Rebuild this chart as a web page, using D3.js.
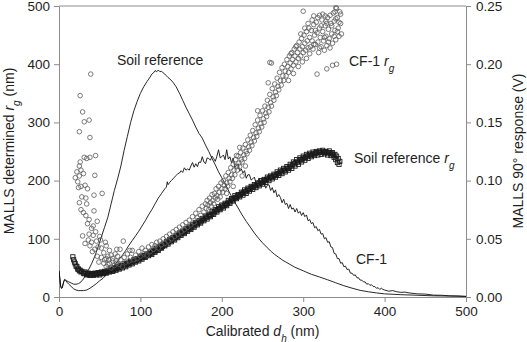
<!DOCTYPE html>
<html>
<head>
<meta charset="utf-8">
<script src="https://cdn.jsdelivr.net/npm/d3@7"></script>
<style>
  body { margin: 0; background: #fff; }
  svg { display: block; font-family: "Liberation Sans", Arial, sans-serif; }
</style>
</head>
<body>
<div id="chart"></div>
<script>
// ---- data ----
// x: calibrated d_h (nm); left axis r_g (nm); right axis MALLS 90 deg response (V)
const xTicks = [0, 100, 200, 300, 400, 500];
const rgTicks = [0, 100, 200, 300, 400, 500];
const voltTicks = [0, 0.05, 0.10, 0.15, 0.20, 0.25];

// Soil reference 90 deg signal [dh, V]
const soilSignal = [[0,0.0225],[1,0.016],[2,0.0095],[3,0.0075],[4,0.008],[5,0.011],[6,0.0135],[7,0.015],[8,0.0145],[9,0.014],[12,0.013],[15,0.012],[18,0.011],[21,0.011],[24,0.0115],[27,0.013],[30,0.0155],[33,0.019],[36,0.023],[40,0.0285],[44,0.035],[48,0.043],[52,0.0515],[56,0.06],[60,0.0685],[64,0.08],[68,0.0915],[72,0.1015],[76,0.1125],[80,0.126],[84,0.138],[88,0.15],[92,0.16],[96,0.168],[100,0.175],[104,0.1805],[108,0.185],[112,0.189],[114,0.1915],[116,0.1925],[118,0.1945],[120,0.1935],[122,0.195],[124,0.1935],[126,0.194],[128,0.1925],[130,0.1915],[132,0.19],[134,0.1885],[136,0.1875],[140,0.1845],[144,0.1805],[148,0.175],[152,0.169],[156,0.163],[160,0.1575],[164,0.152],[168,0.146],[172,0.1405],[176,0.1365],[180,0.1305],[184,0.125],[188,0.119],[192,0.1135],[196,0.1075],[200,0.1025],[205,0.096],[210,0.089],[215,0.0825],[220,0.0765],[225,0.0705],[230,0.065],[235,0.06],[240,0.055],[245,0.0505],[250,0.0465],[255,0.043],[260,0.0395],[265,0.0365],[270,0.034],[275,0.0315],[280,0.0295],[285,0.0275],[290,0.0255],[295,0.024],[300,0.0225],[310,0.0195],[320,0.0172],[330,0.0148],[340,0.0122],[350,0.0097],[360,0.0076],[370,0.0057],[380,0.0045],[390,0.0035],[400,0.0027],[420,0.002],[440,0.0015],[460,0.001],[480,0.0008],[500,0.0005]];

// CF-1 90 deg signal [dh, V]
const cf1Signal = [[0,0.0225],[1,0.016],[2,0.0095],[3,0.0075],[4,0.008],[5,0.011],[6,0.0135],[7,0.015],[8,0.0145],[10,0.0125],[12,0.011],[15,0.009],[18,0.007],[21,0.006],[24,0.0055],[27,0.0055],[30,0.0055],[34,0.006],[38,0.0075],[42,0.0095],[46,0.0115],[50,0.014],[54,0.016],[58,0.019],[62,0.0225],[66,0.0255],[70,0.029],[74,0.0325],[78,0.036],[82,0.04],[86,0.0445],[90,0.0485],[94,0.0525],[98,0.0565],[102,0.061],[106,0.0655],[110,0.0705],[114,0.075],[118,0.08],[122,0.085],[126,0.089],[130,0.093],[132,0.0945],[133,0.099],[134,0.0965],[136,0.0985],[138,0.1],[140,0.1015],[142,0.103],[144,0.1045],[146,0.106],[148,0.1065],
  [150,0.1085],[152,0.107],[154,0.111],[156,0.109],[158,0.11],[160,0.109],[162,0.1125],[164,0.1155],[166,0.1115],[168,0.1145],[170,0.112],[172,0.116],[174,0.1155],[176,0.1205],[178,0.116],[180,0.1145],[182,0.1195],[184,0.119],[186,0.1175],[188,0.121],[190,0.119],[192,0.1165],[194,0.121],[196,0.1265],[198,0.1195],[200,0.1205],[202,0.122],[204,0.118],[206,0.1265],[208,0.1185],[210,0.1205],[212,0.115],[214,0.1195],[216,0.111],[218,0.113],[220,0.1145],[222,0.108],[224,0.11],[226,0.1065],[228,0.1085],[230,0.102],[232,0.105],[234,0.105],[236,0.1005],[238,0.1015],[240,0.103],[242,0.098],[244,0.1],[246,0.1015],[248,0.0965],[250,0.098],[252,0.0985],[254,0.0935],[256,0.096],[258,0.0965],[260,0.0915],[262,0.094],[264,0.0895],[266,0.092],[268,0.086],[270,0.088],[272,0.0855],[274,0.081],[276,0.084],[278,0.0795],[280,0.0805],[282,0.076],[284,0.0795],[286,0.0755],[288,0.0765],[290,0.073],[292,0.076],[294,0.072],[296,0.0735],[298,0.07],[300,0.0725],[302,0.069],[304,0.0705],[306,0.0655],[308,0.0665],[310,0.063],[312,0.064],[314,0.0595],[316,0.0605],[318,0.057],[320,0.058],[322,0.054],[324,0.0545],[326,0.05],[328,0.051],[330,0.047],[332,0.0475],[334,0.043],[336,0.0425],[338,0.0375],[340,0.037],[342,0.033],[344,0.033],[346,0.029],[348,0.0295],[350,0.026],[352,0.0265],[354,0.0235],[356,0.024],[358,0.0205],[360,0.0205],[362,0.0185],[364,0.019],[366,0.0165],[368,0.0165],[370,0.0145],[372,0.0145],[374,0.013],[376,0.013],[378,0.011],[380,0.0115],[382,0.01],[384,0.0105],[386,0.009],[388,0.009],[390,0.0075],[392,0.008],[394,0.0065],[396,0.0075],[398,0.0065],[400,0.006],
  [405,0.005],[410,0.0055],[415,0.0045],[420,0.004],[425,0.0042],[430,0.0035],[440,0.0027],[450,0.0025],[460,0.0016],[470,0.0015],[480,0.001],[490,0.0009],[500,0.0005]];

// Soil reference r_g (squares) [dh, nm]
const soilRg = [[17,69],[18,64],[19,60],[20,57],[21,53],[22,52],[23,48],[24,48],[25,45],[26,46],[27,43],[28,44],[30,41],[32,43],[34,38],[36,41],[38,37],[40,40],[42,37],[44,41],[46,38],[48,42],[50,38],[52,43],[54,40],[56,44],[58,41],[60,46],[62,43],[64,48],[66,44],[68,50],[70,46],[72,52],[74,48],[76,54],[78,50],[80,57],[82,52],[84,58],[86,55],[88,61],[90,57],[92,64],[94,60],[96,66],[98,62],[100,69],[102,65],[104,71],[106,68],[108,74],[110,71],[112,77],[114,73],[116,80],[118,77],[120,84],[122,80],[124,87],[126,84],[128,91],[130,88],[132,95],[134,91],[136,99],[138,95],[140,102],[142,98],[144,106],[146,102],[148,110],[150,106],[152,113],[154,109],[156,117],[158,113],[160,120],[162,116],[164,124],[166,120],[168,128],[170,124],[172,131],[174,127],[176,135],[178,131],[180,139],[182,134],[184,142],[186,138],[188,147],[190,142],[192,150],[194,146],[196,155],[198,150],[200,158],[202,153],[204,161],[206,157],[208,166],[210,161],[212,169],[214,165],[216,174],[218,169],[220,176],[222,172],[224,180],[226,175],[228,184],[230,178],[232,187],[234,182],[236,190],[238,185],[240,193],[242,188],[244,196],[246,191],[248,200],[250,194],[252,202],[254,197],[256,206],[258,200],[260,208],[262,203],[264,211],[266,206],[268,215],[270,209],[272,218],[274,212],[276,221],[278,215],[280,224],[282,218],[284,228],[286,221],[288,232],[290,225],[292,236],[294,228],[296,239],[298,232],[300,242],[302,235],[304,245],[306,238],[308,247],[310,241],[312,249],[314,243],[316,250],[318,244],[320,251],[322,245],[324,252],[326,246],[328,250],[330,244],[332,251],[334,243],[336,248],[338,240],[339,245],[340,236],[341,242],[342,231],[343,238],[344,228],[345,233],
  [31,40],[33,41],[35,39],[37,40],[39,38],[41,40],[43,39],[45,40],[47,40],[49,40],[51,41],[53,41],[55,42],[57,43],[59,43],[61,45],[63,45],[65,46],[67,47],[69,48],[71,49],[73,50],[75,51],[77,52],[79,53],[81,54],[83,56],[85,57],[87,58],[89,59],[91,61],[93,62],[95,63],[97,64],[99,66],[101,67],[103,68],[105,70],[107,71],[109,73],[111,74],[113,75],[115,77],[117,78],[119,80],[121,82],[123,84],[125,85],[127,87],[129,89],[131,91],[133,93],[135,95],[137,97],[139,99],[141,100],[143,102],[145,104],[147,106],[149,108],[151,110],[153,111],[155,113],[157,115],[159,117],[161,118],[163,120],[165,122],[167,124],[169,126],[171,128],[173,129],[175,131],[177,133],[179,135],[181,137],[183,138],[185,140],[187,142],[189,144],[191,146],[193,148],[195,150],[197,152],[199,154],[201,156],[203,157],[205,159],[207,161],[209,163],[211,165],[213,167],[215,169],[217,171],[219,173],[221,174],[223,176],[225,178],[227,180],[229,181],[231,183],[233,185],[235,186],[237,188],[239,189],[241,191],[243,192],[245,194],[247,195],[249,197],[251,198],[253,200],[255,202],[257,203],[259,205],[261,206],[263,207],[265,209],[267,210],[269,212],[271,213],[273,215],[275,217],[277,218],[279,220],[281,221],[283,223],[285,225],[287,227],[289,229],[291,231],[293,232],[295,234],[297,236],[299,237],[301,239],[303,240],[305,242],[307,243],[309,244],[311,245],[313,246],[315,247],[317,248],[319,248],[321,249],[323,249],[325,249],[327,249],[329,248],[331,248],[333,247],[335,246],[337,244]];

// CF-1 r_g (circles) [dh, nm]
const cf1Rg = [[39,383],[26,346],[29,318],[31,301],[37,304],[25,284],[38,274],[31,240],[34,238],[38,240],[45,243],[25,225],[27,218],[30,212],[25,208],[44,209],[24,188],[27,190],[32,192],[35,186],[53,178],[43,175],[33,170],[25,162],[27,150],[30,145],[33,140],[43,148],[37,133],[35,126],[47,130],[42,122],[29,105],[37,108],[42,106],[36,98],[40,94],[46,96],[51,98],[48,86],[52,84],[58,88],[44,82],[41,78],[55,76],[62,80],[47,70],[52,68],[58,66],[64,72],[69,74],[75,82],[49,60],[55,58],[60,56],[66,62],[71,58],[26,232],[22,215],[20,205],[23,198],[34,160],[28,172],[40,118],[45,112],[50,104],[32,92],[38,88],[57,94],[61,64],[71,82],[87,80],[79,96],
  [56,64],[58,52],[60,70],[62,58],[64,50],[66,66],[68,54],[70,62],[72,70],[74,56],[76,64],[78,52],[80,68],[82,60],[84,74],[86,62],[88,68],[90,80],[92,64],[94,72],[96,66],[98,78],[100,70],[102,84],[104,74],[106,80],[108,72],[110,86],[112,78],[114,90],[116,82],[118,88],[120,94],[122,84],[124,96],[126,90],[128,100],[130,92],[132,104],[134,96],[136,108],[138,100],[140,112],[142,104],[144,116],[146,108],[148,120],[150,112],[152,124],[154,116],[156,128],[158,120],[160,132],[162,124],[164,138],[166,128],[168,144],[170,136],[172,150],[174,140],[176,156],[178,146],[180,160],
  [181,152],[182,166],[183,158],[184,150],[185,170],[186,162],[187,156],[188,176],[189,166],[190,160],[191,178],[192,170],[193,186],[194,174],[195,168],[196,190],[197,180],[198,172],[199,196],[200,186],[201,180],[202,200],[203,192],[204,186],[205,208],[206,196],[207,190],[208,214],[209,204],[210,198],[211,222],[212,210],[213,204],[214,228],[215,218],[216,210],[217,236],[218,224],[219,218],[220,242],[221,230],[222,224],[223,248],[224,236],[225,232],[226,256],[227,244],[228,238],[229,262],[230,250],
  [231,246],[232,270],[233,258],[234,252],[235,278],[236,266],[237,260],[238,286],[239,274],[240,268],[241,296],[242,282],[243,276],[244,304],[245,290],[246,284],[247,312],[248,298],[249,292],[250,320],[251,306],[252,300],[253,328],[254,316],[255,310],[256,338],[257,326],[258,318],[259,348],[260,334],[261,328],[262,358],[263,344],[264,338],[265,366],[266,352],[267,346],[268,376],[269,362],[270,356],[271,386],[272,372],[273,364],[274,394],[275,380],[276,372],[277,400],[278,388],[279,380],[280,408],[281,396],[282,386],[283,414],[284,402],[285,392],[286,420],[287,408],[288,398],[289,426],[290,414],[291,404],[292,432],[293,420],[294,410],[295,438],[296,426],[297,414],[298,444],[299,430],[300,420],
  [301,450],[302,436],[303,424],[304,456],[305,440],[306,428],[307,462],[308,446],[309,430],[310,458],[311,440],[312,426],[313,468],[314,450],[315,434],[316,472],[317,454],[318,438],[319,420],[320,462],[321,446],[322,430],[323,476],[324,456],[325,440],[326,424],[327,466],[328,448],[329,432],[330,480],[331,460],[332,444],[333,428],[334,470],[335,452],[336,436],[337,488],[338,474],[339,458],[340,442],[341,496],[342,480],[343,462],[344,448],[345,490],[346,470],[347,452],
  [259,403],[257,368],[261,402],[317,383],[329,392],[336,398],[341,400],[300,491],[313,483],[320,484],[327,483],[340,497],[218,243],[222,257],[244,320],[229,225],[206,178],[214,190],[225,208],
  [282,372],[285,418],[288,384],[291,430],[294,396],[297,452],[299,404],[302,462],[304,410],[306,470],[308,418],[311,476],[313,434],[315,458],[318,480],[320,428],[322,466],[324,486],[326,446],[328,474],[331,438],[333,484],[335,466],[338,448],[340,478],[342,456],[344,472],[346,486],[339,490],[329,470]];

// ---- chart ----
const W = 527, H = 342;
const plot = { left: 59, right: 466, top: 6, bottom: 297 };
const axisColor = '#8c8c8c', textColor = '#1e1e1e';

const svg = d3.select('#chart').append('svg')
  .attr('width', W).attr('height', H);

const x = d3.scaleLinear().domain([0, 500]).range([plot.left, plot.right]);
const yRg = d3.scaleLinear().domain([0, 500]).range([plot.bottom, plot.top]);
const yV = d3.scaleLinear().domain([0, 0.25]).range([plot.bottom, plot.top]);

svg.append('clipPath').attr('id', 'clip')
  .append('rect')
  .attr('x', plot.left).attr('y', plot.top - 3)
  .attr('width', plot.right - plot.left).attr('height', plot.bottom - plot.top + 3);

// frame top line
svg.append('line')
  .attr('x1', plot.left).attr('x2', plot.right)
  .attr('y1', plot.top).attr('y2', plot.top)
  .attr('stroke', axisColor).attr('stroke-width', 1);

function styleAxis(g) {
  g.select('.domain').attr('stroke', axisColor).attr('stroke-width', 1);
  g.selectAll('.tick line').attr('stroke', axisColor);
  g.selectAll('.tick text').attr('fill', textColor).style('font-size', '13.5px');
  g.attr('font-family', null);
}

svg.append('g')
  .attr('transform', `translate(0,${plot.bottom})`)
  .call(d3.axisBottom(x).tickValues(xTicks).tickSize(5).tickSizeOuter(0).tickPadding(4))
  .call(styleAxis);

svg.append('g')
  .attr('transform', `translate(${plot.left},0)`)
  .call(d3.axisLeft(yRg).tickValues(rgTicks).tickSize(5).tickSizeOuter(0).tickPadding(4))
  .call(styleAxis);

svg.append('g')
  .attr('transform', `translate(${plot.right},0)`)
  .call(d3.axisRight(yV).tickValues(voltTicks).tickFormat(d3.format('.2f')).tickSize(5).tickSizeOuter(0).tickPadding(5))
  .call(styleAxis);

// marks
const marks = svg.append('g').attr('clip-path', 'url(#clip)');

const lineV = d3.line().x(d => x(d[0])).y(d => yV(d[1]));
marks.selectAll('path.signal')
  .data([soilSignal, cf1Signal])
  .join('path')
  .attr('class', 'signal')
  .attr('d', lineV)
  .attr('fill', 'none')
  .attr('stroke', '#111')
  .attr('stroke-width', 0.9);

const sq = 4.2;
marks.selectAll('rect.soilrg')
  .data(soilRg)
  .join('rect')
  .attr('class', 'soilrg')
  .attr('x', d => x(d[0]) - sq / 2)
  .attr('y', d => yRg(d[1]) - sq / 2)
  .attr('width', sq).attr('height', sq)
  .attr('fill', 'none')
  .attr('stroke', '#1a1a1a')
  .attr('stroke-width', 0.9);

marks.selectAll('circle.cf1rg')
  .data(cf1Rg)
  .join('circle')
  .attr('class', 'cf1rg')
  .attr('cx', d => x(d[0]))
  .attr('cy', d => yRg(d[1]))
  .attr('r', 2.3)
  .attr('fill', 'none')
  .attr('stroke', '#5a5a5a')
  .attr('stroke-width', 0.8);

// annotations
function label(xp, yp, parts) {
  const t = svg.append('text')
    .attr('x', xp).attr('y', yp)
    .attr('fill', textColor)
    .style('font-size', '14px');
  parts.forEach(p => {
    const s = t.append('tspan').text(p.t);
    if (p.i) s.style('font-style', 'italic');
    if (p.sub) s.attr('baseline-shift', 'sub').style('font-size', '10px');
  });
  return t;
}

label(117, 65, [{ t: 'Soil reference' }]);
label(349, 66, [{ t: 'CF-1 ' }, { t: 'r', i: true }, { t: 'g', i: true, sub: true }]);
label(354, 163, [{ t: 'Soil reference ' }, { t: 'r', i: true }, { t: 'g', i: true, sub: true }]);
label(356, 264, [{ t: 'CF-1' }]);

// axis titles
label((plot.left + plot.right) / 2, 336,
  [{ t: 'Calibrated ' }, { t: 'd', i: true }, { t: 'h', i: true, sub: true }, { t: ' (nm)' }])
  .attr('text-anchor', 'middle');

label(0, 0, [{ t: 'MALLS determined ' }, { t: 'r', i: true }, { t: 'g', i: true, sub: true }, { t: ' (nm)' }])
  .attr('text-anchor', 'middle')
  .attr('transform', 'translate(14,151) rotate(-90)');

label(0, 0, [{ t: 'MALLS 90° response (V)' }])
  .attr('text-anchor', 'middle')
  .attr('transform', 'translate(523,151) rotate(-90)');
</script>
</body>
</html>
